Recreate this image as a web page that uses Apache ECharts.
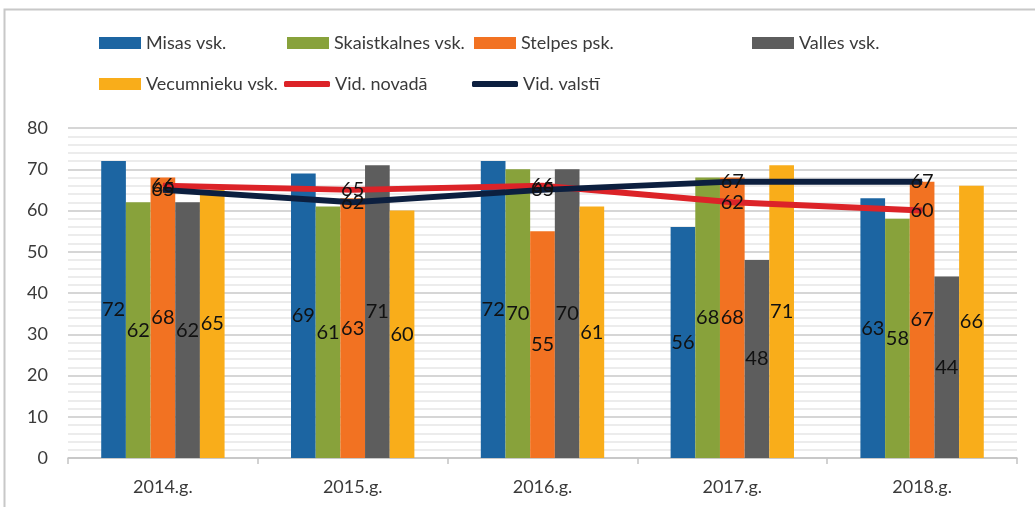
<!DOCTYPE html>
<html>
<head>
<meta charset="utf-8">
<script src="https://cdn.jsdelivr.net/npm/echarts@6/dist/echarts.min.js"></script>
<style>
html,body{margin:0;padding:0;background:#fff;}
#chart{width:1035px;height:507px;}
</style>
</head>
<body>
<div id="chart"></div>
<script>
const categories = ['2014.g.', '2015.g.', '2016.g.', '2017.g.', '2018.g.'];
const misas = [72, 69, 72, 56, 63];
const skaistkalnes = [62, 61, 70, 68, 58];
const stelpes = [68, 63, 55, 68, 67];
const valles = [62, 71, 70, 48, 44];
const vecumnieku = [65, 60, 61, 71, 66];
const vidNovada = [66, 65, 66, 62, 60];
const vidValsti = [65, 62, 65, 67, 67];

const FONT = 'Lato, "Open Sans", sans-serif';
const barSeriesDefs = [
  { name: 'Misas vsk.', data: misas, color: '#1c65a2' },
  { name: 'Skaistkalnes vsk.', data: skaistkalnes, color: '#88a23b' },
  { name: 'Stelpes psk.', data: stelpes, color: '#f27222' },
  { name: 'Valles vsk.', data: valles, color: '#5d5d5d' },
  { name: 'Vecumnieku vsk.', data: vecumnieku, color: '#f9ad1a' }
];
const lineSeriesDefs = [
  { name: 'Vid. novadā', data: vidNovada, color: '#dc2328' },
  { name: 'Vid. valstī', data: vidValsti, color: '#0c1f3f' }
];

const legendText = { fontFamily: FONT, fontSize: 18, color: '#3a3a3a', lineHeight: 20 };
function barLegend(name, left, top) {
  return { data: [name], left: left, top: top, icon: 'rect', itemWidth: 42, itemHeight: 12,
    textStyle: legendText, selectedMode: false, padding: 0 };
}
function lineLegend(name, left, top) {
  return { data: [name], left: left, top: top, icon: 'roundRect', itemWidth: 46, itemHeight: 6,
    textStyle: legendText, selectedMode: false, padding: 0 };
}

const series = [];
barSeriesDefs.forEach(d => {
  series.push({
    name: d.name, type: 'bar', data: d.data,
    barGap: '0%', barCategoryGap: '35%',
    itemStyle: { color: d.color },
    label: { show: true, position: 'inside', color: '#111', fontFamily: FONT, fontSize: 20 },
    z: 2
  });
});
lineSeriesDefs.forEach(d => {
  series.push({
    name: d.name, type: 'line', data: d.data,
    symbol: 'circle', showSymbol: true, symbolSize: 1,
    lineStyle: { color: d.color, width: 6 },
    itemStyle: { color: d.color },
    label: { show: true, position: 'inside', color: '#111', fontFamily: FONT, fontSize: 20 },
    labelLayout: { hideOverlap: false },
    z: 3
  });
});

const chart = echarts.init(document.getElementById('chart'), null, { renderer: 'canvas' });
chart.setOption({
  animation: false,
  backgroundColor: '#fff',
  legend: [
    barLegend('Misas vsk.', 99, 33),
    barLegend('Skaistkalnes vsk.', 287, 33),
    barLegend('Stelpes psk.', 474, 33),
    barLegend('Valles vsk.', 752, 33),
    barLegend('Vecumnieku vsk.', 99, 74),
    lineLegend('Vid. novadā', 284, 74),
    lineLegend('Vid. valstī', 472, 74)
  ],
  grid: { left: 68, right: 18, top: 128, bottom: 49, containLabel: false },
  xAxis: {
    type: 'category', data: categories,
    axisLine: { lineStyle: { color: '#c4c4c4', width: 1.5 } },
    axisTick: { show: true, length: 6, lineStyle: { color: '#c4c4c4', width: 1.5 } },
    axisLabel: { fontFamily: FONT, fontSize: 18, color: '#3a3a3a', margin: 20 }
  },
  yAxis: {
    type: 'value', min: 0, max: 80, interval: 10,
    axisLine: { show: false }, axisTick: { show: false },
    axisLabel: { fontFamily: FONT, fontSize: 18, color: '#3a3a3a', margin: 20 },
    splitLine: { lineStyle: { color: '#c8c8c8', width: 1.5 } },
    minorTick: { show: false, splitNumber: 5 },
    minorSplitLine: { show: true, lineStyle: { color: '#e6e6e6', width: 1.5 } }
  },
  graphic: [
    { type: 'polyline', shape: { points: [[4.5, 507], [4.5, 9.5], [1035, 9.5]] },
      style: { stroke: '#c8c8c8', lineWidth: 2, fill: null }, silent: true }
  ],
  series: series
});
</script>
</body>
</html>
